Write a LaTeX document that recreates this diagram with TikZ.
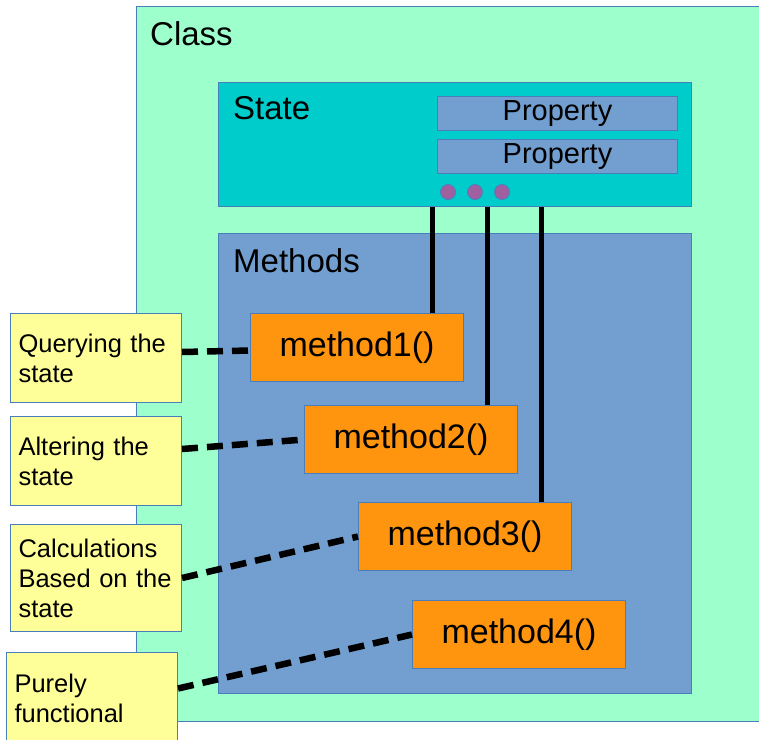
\documentclass[tikz,border=0pt]{standalone}
\usepackage{fontspec}
\setmainfont{Liberation Sans}
\definecolor{classgreen}{HTML}{9CFFCC}
\definecolor{statecyan}{HTML}{00CCCC}
\definecolor{methblue}{HTML}{729FCF}
\definecolor{methorange}{HTML}{FF950E}
\definecolor{noteyellow}{HTML}{FFFF99}
\definecolor{dotpurple}{HTML}{A0609F}
\definecolor{edgeblue}{HTML}{4A7EBB}

\begin{document}
\begin{tikzpicture}[x=1pt, y=-1pt,
	box/.style={draw=edgeblue, line width=1pt, inner sep=0pt, anchor=north west},
	title/.style={anchor=west, inner sep=0pt, font=\fontsize{33}{40}\selectfont},
	prop/.style={box, fill=methblue, minimum width=240pt, minimum height=34pt, font=\fontsize{29}{34}\selectfont},
	meth/.style={box, fill=methorange, minimum width=213pt, minimum height=68pt, font=\fontsize{34}{40}\selectfont},
	note/.style={box, fill=noteyellow, inner xsep=8pt, text width=155pt, align=left, minimum height=89pt, font=\fontsize{25.5}{30}\selectfont},
	dot/.style={circle, draw=edgeblue, line width=0.8pt, fill=dotpurple, inner sep=0pt, minimum size=15pt},
	stem/.style={line width=5pt, black},
	link/.style={line width=6.5pt, black, dash pattern=on 16pt off 9pt}]
\useasboundingbox (0,0) rectangle (759,739);
\clip (0,0) rectangle (759,739);
% containers
\node[box, fill=classgreen, minimum width=650pt, minimum height=715pt] (class) at (136,6) {};
\node[title] (classlabel) at (150,34) {Class};
\node[box, fill=statecyan, minimum width=473pt, minimum height=124pt] (state) at (218,82) {};
\node[title] (statelabel) at (233,108) {State};
\node[prop] (prop1) at (437,96) {Property};
\node[prop] (prop2) at (437,139) {Property};
\node[dot] (dot1) at (448,192) {};
\node[dot] (dot2) at (475,192) {};
\node[dot] (dot3) at (502,192) {};
\node[box, fill=methblue, minimum width=473pt, minimum height=460pt] (methods) at (218,233) {};
\node[title] (methodslabel) at (233,261) {Methods};
% methods
\node[meth] (m1) at (250,313) {method1()};
\node[meth] (m2) at (304,405) {method2()};
\node[meth] (m3) at (358,502) {method3()};
\node[meth] (m4) at (412,600) {method4()};
% notes
\node[note] (query) at (10,313) {Querying the\\state};
\node[note] (alter) at (10,416) {Altering the\\state};
\node[note, minimum height=107pt] (calc) at (10,524) {Calculations\\\mbox{Based on the}\\state};
\node[note, minimum height=92pt] (pure) at (6,652) {Purely\\functional};
% state access
\draw[stem] ([xshift=-32pt]m1.north east) -- ([xshift=-32pt]m1.north east |- state.south);
\draw[stem] ([xshift=-31pt]m2.north east) -- ([xshift=-31pt]m2.north east |- state.south);
\draw[stem] ([xshift=-31pt]m3.north east) -- ([xshift=-31pt]m3.north east |- state.south);
% kinds of method
\draw[link] ([yshift=6pt]query.east) -- ([yshift=-3pt]m1.west);
\draw[link] ([yshift=12pt]alter.east) -- (m2.west);
\draw[link] (calc.east) -- (m3.west);
\draw[link] ([yshift=10pt]pure.east) -- (m4.west);
\end{tikzpicture}
\end{document}
